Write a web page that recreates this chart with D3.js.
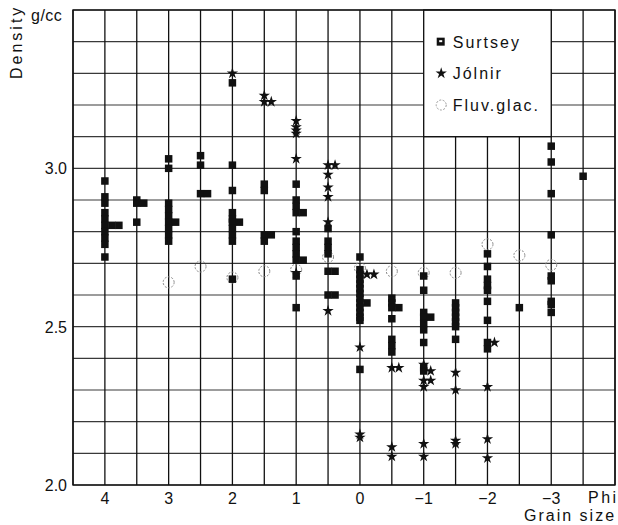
<!DOCTYPE html>
<html>
<head>
<meta charset="utf-8">
<script src="https://cdn.jsdelivr.net/npm/d3@7"></script>
<style>
  body { margin: 0; background: #fff; }
  text { font-family: "Liberation Sans", Arial, sans-serif; fill: #111; }
</style>
</head>
<body>
<div id="chart"></div>
<script>
// size of the page and the plot frame
var svgWidth = 618;
var svgHeight = 525;
var margins = { top: 10, right: 3, bottom: 40, left: 73 };
var chartWidth = svgWidth - margins.left - margins.right;
var chartHeight = svgHeight - margins.top - margins.bottom;

// data: [phi, density g/cc]
var surtsey = [
  [4, 2.96], [4, 2.91], [4, 2.89], [4, 2.86], [4, 2.84], [4, 2.82], [4, 2.82], [4, 2.82], [4, 2.80], [4, 2.78], [4, 2.76], [4, 2.72],
  [3.5, 2.90], [3.5, 2.89], [3.5, 2.89], [3.5, 2.83],
  [3, 3.03], [3, 3.00], [3, 2.89], [3, 2.87], [3, 2.85], [3, 2.83], [3, 2.83], [3, 2.81], [3, 2.79], [3, 2.77],
  [2.5, 3.04], [2.5, 3.01], [2.5, 2.92], [2.5, 2.92],
  [2, 3.27], [2, 3.01], [2, 2.93], [2, 2.86], [2, 2.84], [2, 2.83], [2, 2.83], [2, 2.81], [2, 2.79], [2, 2.77], [2, 2.65],
  [1.5, 2.95], [1.5, 2.93], [1.5, 2.79], [1.5, 2.79], [1.5, 2.77],
  [1, 2.95], [1, 2.90], [1, 2.88], [1, 2.86], [1, 2.86], [1, 2.80], [1, 2.77], [1, 2.75], [1, 2.73], [1, 2.71], [1, 2.71], [1, 2.66], [1, 2.56],
  [0.5, 2.81], [0.5, 2.77], [0.5, 2.75], [0.5, 2.73], [0.5, 2.675], [0.5, 2.675], [0.5, 2.60], [0.5, 2.60],
  [0, 2.72], [0, 2.68], [0, 2.665], [0, 2.65], [0, 2.635], [0, 2.62], [0, 2.605], [0, 2.59], [0, 2.575], [0, 2.575], [0, 2.56], [0, 2.545], [0, 2.53], [0, 2.52], [0, 2.365],
  [-0.5, 2.59], [-0.5, 2.575], [-0.5, 2.56], [-0.5, 2.56], [-0.5, 2.525], [-0.5, 2.46], [-0.5, 2.44], [-0.5, 2.42],
  [-1, 2.66], [-1, 2.615], [-1, 2.545], [-1, 2.53], [-1, 2.53], [-1, 2.51], [-1, 2.49], [-1, 2.45], [-1, 2.37], [-1, 2.36],
  [-1.5, 2.575], [-1.5, 2.56], [-1.5, 2.545], [-1.5, 2.53], [-1.5, 2.515], [-1.5, 2.50], [-1.5, 2.46],
  [-2, 2.73], [-2, 2.69], [-2, 2.65], [-2, 2.63], [-2, 2.615], [-2, 2.58], [-2, 2.52], [-2, 2.45], [-2, 2.43],
  [-2.5, 2.56],
  [-3, 3.07], [-3, 3.02], [-3, 2.92], [-3, 2.79], [-3, 2.66], [-3, 2.645], [-3, 2.58], [-3, 2.57], [-3, 2.545],
  [-3.5, 2.975]
];
var jolnir = [
  [2, 3.30],
  [1.5, 3.23], [1.5, 3.21], [1.5, 3.21],
  [1, 3.15], [1, 3.13], [1, 3.12], [1, 3.11], [1, 3.03], [1, 2.67],
  [0.5, 3.01], [0.5, 3.01], [0.5, 2.98], [0.5, 2.94], [0.5, 2.91], [0.5, 2.83], [0.5, 2.55],
  [0, 2.665], [0, 2.665], [0, 2.435], [0, 2.16], [0, 2.15],
  [-0.5, 2.37], [-0.5, 2.37], [-0.5, 2.12], [-0.5, 2.09],
  [-1, 2.38], [-1, 2.36], [-1, 2.33], [-1, 2.33], [-1, 2.31], [-1, 2.13], [-1, 2.09],
  [-1.5, 2.355], [-1.5, 2.30], [-1.5, 2.14], [-1.5, 2.13],
  [-2, 2.45], [-2, 2.31], [-2, 2.145], [-2, 2.085]
];
var fluvglac = [
  [3, 2.64], [2.5, 2.69], [2, 2.655], [1.5, 2.675], [1, 2.68], [0.5, 2.72], [0, 2.685],
  [-0.5, 2.675], [-1, 2.67], [-1.5, 2.67], [-2, 2.76], [-2.5, 2.725], [-3, 2.695]
];
var xTicks = [4, 3, 2, 1, 0, -1, -2, -3];
var xTickLabels = ["4", "3", "2", "1", "0", "\u22121", "\u22122", "\u22123"];
var yTicks = [2.0, 2.5, 3.0];
var legendNames = ["Surtsey", "J\u00f3lnir", "Fluv.glac."];

var svg = d3.select("#chart").append("svg")
    .attr("width", svgWidth)
    .attr("height", svgHeight);

var chartGroup = svg.append("g")
    .attr("transform", `translate(${margins.left}, ${margins.top})`);

// scales: phi runs backwards, coarse grains to the right
var xscale = d3.scaleLinear().domain([4.5, -4]).range([0, chartWidth]);
var yscale = d3.scaleLinear().domain([2.0, 3.5]).range([chartHeight, 0]);

// grid lines
var hLines = d3.range(2.0, 3.501, 0.1);
var vLines = d3.range(4.5, -4.001, -0.5);

chartGroup.append("g").selectAll("line")
  .data(hLines).enter().append("line")
  .attr("x1", 0).attr("x2", chartWidth)
  .attr("y1", d => yscale(d)).attr("y2", d => yscale(d))
  .attr("stroke", "#3a3a3a")
  .attr("stroke-width", 1.2);

chartGroup.append("g").selectAll("line")
  .data(vLines).enter().append("line")
  .attr("x1", d => xscale(d)).attr("x2", d => xscale(d))
  .attr("y1", 0).attr("y2", chartHeight)
  .attr("stroke", "#111")
  .attr("stroke-width", 1.3);

// white box for the legend, edged by the grid
var legX0 = xscale(-1), legX1 = xscale(-3);
var legY0 = yscale(3.5), legY1 = yscale(3.1);
chartGroup.append("rect")
  .attr("x", legX0).attr("y", legY0)
  .attr("width", legX1 - legX0).attr("height", legY1 - legY0)
  .attr("fill", "#fff")
  .attr("stroke", "#111")
  .attr("stroke-width", 1.3);

// frame
chartGroup.append("rect")
  .attr("width", chartWidth).attr("height", chartHeight)
  .attr("fill", "none")
  .attr("stroke", "#111")
  .attr("stroke-width", 1.4);

// offset repeated readings sideways so they sit next to each other
var counts = {};
function place(p) {
  var key = p[0] + "_" + p[1].toFixed(3);
  var n = counts[key] || 0;
  counts[key] = n + 1;
  return { phi: p[0], d: p[1], k: n };
}
var sq = surtsey.map(place);
var st = jolnir.map(place);
var step = 7;
var box = 7.5;

// fluvioglacial circles
chartGroup.append("g").selectAll("circle")
  .data(fluvglac).enter().append("circle")
  .attr("cx", d => xscale(d[0]))
  .attr("cy", d => yscale(d[1]))
  .attr("r", 5.5)
  .attr("fill", "none")
  .attr("stroke", "#888")
  .attr("stroke-width", 1)
  .attr("stroke-dasharray", "2,1.5");

// Surtsey squares
chartGroup.append("g").selectAll("rect")
  .data(sq).enter().append("rect")
  .attr("x", d => xscale(d.phi) - box / 2 + d.k * step)
  .attr("y", d => yscale(d.d) - box / 2)
  .attr("width", box).attr("height", box)
  .attr("fill", "#111");

// Jolnir stars
var star = d3.symbol().type(d3.symbolStar).size(40);
chartGroup.append("g").selectAll("path")
  .data(st).enter().append("path")
  .attr("d", star)
  .attr("transform", d => `translate(${xscale(d.phi) + d.k * step}, ${yscale(d.d)})`)
  .attr("fill", "#111");

// tick labels
chartGroup.append("g").selectAll("text")
  .data(xTicks).enter().append("text")
  .attr("x", d => xscale(d))
  .attr("y", chartHeight + 19)
  .attr("text-anchor", "middle")
  .style("font-size", "16px")
  .text((d, i) => xTickLabels[i]);

chartGroup.append("g").selectAll("text")
  .data(yTicks).enter().append("text")
  .attr("x", -6)
  .attr("y", d => yscale(d) + 6)
  .attr("text-anchor", "end")
  .style("font-size", "16px")
  .text(d => d.toFixed(1));

// axis titles
svg.append("text")
  .attr("transform", "translate(22, 79) rotate(-90)")
  .style("font-size", "16px")
  .style("letter-spacing", "3px")
  .text("Density");
svg.append("text")
  .attr("x", 31).attr("y", 21)
  .style("font-size", "16px")
  .style("letter-spacing", "0.5px")
  .text("g/cc");
svg.append("text")
  .attr("x", 588).attr("y", 503)
  .style("font-size", "16px")
  .style("letter-spacing", "2.5px")
  .text("Phi");
svg.append("text")
  .attr("x", 524).attr("y", 521)
  .style("font-size", "16px")
  .style("letter-spacing", "2px")
  .text("Grain size");

// legend
var legend = chartGroup.append("g");
var legRows = [3.4, 3.3, 3.2];
legend.selectAll("text")
  .data(legendNames).enter().append("text")
  .attr("x", legX0 + 29)
  .attr("y", (d, i) => yscale(legRows[i]) + 6)
  .style("font-size", "16px")
  .style("letter-spacing", "2px")
  .text(d => d);
legend.append("rect")
  .attr("x", legX0 + 13).attr("y", yscale(legRows[0]) - 4)
  .attr("width", 8).attr("height", 8)
  .attr("fill", "#111");
legend.append("rect")
  .attr("x", legX0 + 15.5).attr("y", yscale(legRows[0]) - 1.5)
  .attr("width", 3).attr("height", 2)
  .attr("fill", "#fff");
legend.append("path")
  .attr("d", star)
  .attr("transform", `translate(${legX0 + 17.5}, ${yscale(legRows[1])})`)
  .attr("fill", "#111");
legend.append("circle")
  .attr("cx", legX0 + 17.5).attr("cy", yscale(legRows[2]))
  .attr("r", 5)
  .attr("fill", "none")
  .attr("stroke", "#999")
  .attr("stroke-dasharray", "2,1.5");
</script>
</body>
</html>
